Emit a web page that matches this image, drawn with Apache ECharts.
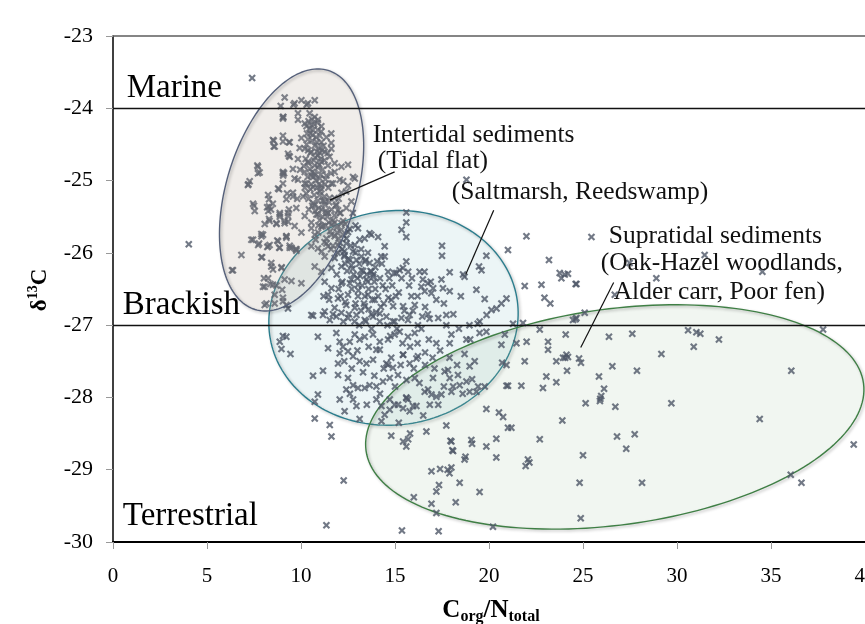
<!DOCTYPE html>
<html><head><meta charset="utf-8">
<script src="https://cdn.jsdelivr.net/npm/echarts/dist/echarts.min.js"></script>
<style>html,body{margin:0;padding:0;background:#fff}#c{width:865px;height:624px}</style>
</head><body><div id="c"></div>
<script>
// ---------- data (C/N, d13C) ----------
const intertidal = [
[9.13,-23.85],[8.92,-23.97],[9.06,-24.12],[8.55,-24.45],[8.55,-24.53],[9.04,-24.46],[9.36,-24.47],[9.36,-24.66],[7.68,-24.79],[7.8,-24.89],
[7.27,-25.01],[7.2,-25.05],[9.1,-24.9],[9.05,-24.93],[8.83,-25.12],[9.26,-25.18],[9.57,-25.22],[9.8,-25.25],[7.45,-25.32],[7.5,-25.35],
[8.3,-25.26],[8.2,-25.37],[8.4,-25.4],[8.87,-25.5],[9.36,-25.4],[9.31,-25.57],[8.07,-25.6],[8.33,-25.56],[8.7,-25.6],[7.98,-25.75],
[7.9,-25.77],[7.45,-25.82],[7.77,-25.87],[8.21,-25.92],[8.33,-25.89],[8.74,-25.83],[9.22,-25.79],[8.84,-25.93],[9.4,-25.93],[9.72,-25.95],
[6.83,-26.03],[6.33,-26.24],[7.93,-26.06],[8.42,-26.19],[8.97,-26.2],[8.03,-26.35],[8.37,-26.43],[8.69,-26.45],[7.98,-26.47],[9.0,-26.51],
[8.16,-26.7],[8.6,-26.7],[9.04,-26.67],[9.31,-26.77],
[7.54,-25.42],[8.3,-25.36],[8.26,-25.42],[8.5,-25.32],[8.87,-25.47],[9.31,-25.45],[8.3,-25.53],[8.69,-25.59],[9.13,-25.59],[7.89,-25.74],
[7.36,-25.82],[7.72,-25.89],[8.25,-25.91],[8.78,-25.84],[8.87,-25.93],[9.22,-25.77],[9.49,-25.93],[9.76,-25.95],[7.89,-26.06],[8.42,-26.14],
[8.51,-26.23],[8.96,-26.21],[6.38,-26.24],[8.25,-26.35],[8.07,-26.47],[8.51,-26.44],[9.13,-26.37],[9.49,-26.39],[10.02,-26.42],[8.6,-26.58],
[9.04,-26.62],[8.07,-26.72],[9.22,-26.72],
[10.02,-23.89],[10.73,-23.89],[9.6,-23.95],[10.3,-23.95],[10.46,-24.07],[10.73,-24.12],[9.84,-24.16],[10.9,-24.16],[9.04,-24.12],[10.29,-24.25],
[10.64,-24.3],[11.08,-24.32],[11.61,-24.35],[9.04,-24.38],[9.4,-24.47],[10.37,-24.43],[10.73,-24.52],[11.08,-24.47],[10.2,-24.56],[10.55,-24.6],
[10.9,-24.65],[11.26,-24.6],[11.61,-24.56],[9.31,-24.63],[9.84,-24.7],[10.37,-24.74],[10.73,-24.79],[11.08,-24.74],[11.43,-24.79],[12.5,-24.78],
[11.79,-24.88],[9.57,-24.84],[9.04,-24.88],[10.2,-24.88],[10.55,-24.93],[11.0,-24.97],[11.35,-24.93],[12.77,-24.95],[9.84,-24.99],[12.06,-24.99],
[9.04,-25.04],[10.29,-25.04],[10.64,-25.09],[11.08,-25.07],[11.61,-25.04],[9.57,-25.17],[10.11,-25.22],[11.0,-25.2],[11.52,-25.24],[12.15,-25.17],
[12.5,-25.07],[9.22,-25.26],[10.64,-25.31],[11.26,-25.33],[11.88,-25.33],[12.68,-25.29],[8.87,-25.45],[9.75,-25.38],[9.31,-25.49],[10.2,-25.49],
[10.82,-25.47],[11.35,-25.45],[12.06,-25.45],[9.13,-25.56],[9.66,-25.63],[10.55,-25.58],[11.17,-25.63],[11.79,-25.58],[12.24,-25.56],[12.59,-25.67],
[9.22,-25.77],[10.02,-25.72],[10.91,-25.72],[11.61,-25.75],[12.24,-25.75],[9.4,-25.9],[9.75,-25.97],[10.55,-25.91],[11.35,-25.87],[12.06,-25.86],
[9.66,-23.93],[10.37,-23.93],[9.04,-24.14],[9.84,-24.07],[10.2,-24.21],[10.55,-24.23],[11.08,-24.25],[8.51,-24.44],[8.6,-24.53],[10.02,-24.41],
[9.93,-24.55],[11.61,-24.48],[9.4,-24.67],[11.0,-24.62],[11.52,-24.67],[11.79,-24.76],[12.15,-24.81],[7.71,-24.81],[7.71,-24.9],[9.04,-24.9],
[7.18,-25.06],[8.78,-25.11],[9.66,-24.97],[10.2,-25.04],[10.73,-24.93],[11.08,-25.12],[11.7,-25.04],[12.24,-25.01],[12.86,-24.97],[8.25,-25.2],
[10.4,-24.18],[10.7,-24.22],[10.9,-24.3],[10.5,-24.35],[10.8,-24.4],[11.0,-24.38],[10.6,-24.45],[10.3,-24.5],[10.95,-24.55],[11.2,-24.52],
[10.5,-24.62],[10.75,-24.68],[11.05,-24.7],[10.4,-24.76],[10.9,-24.82],[11.15,-24.85],[10.6,-24.88],[10.35,-24.95],[10.8,-25.0],[11.3,-24.98],
[10.55,-25.05],[11.0,-25.15],[10.7,-25.2],[11.25,-25.22],[10.4,-25.25],[10.9,-25.28],[11.5,-25.3],[11.1,-25.4],[10.75,-25.42],[11.4,-25.5],
[11.7,-25.55],[11.0,-25.55],[11.3,-25.62],[11.9,-25.65],[11.55,-25.7],[12.0,-25.8],[11.25,-25.85],[11.7,-25.9],[12.2,-25.95],[10.85,-24.6],
[10.65,-24.95],[11.45,-25.1],[10.95,-25.05],[10.25,-24.7],[11.6,-24.9],[12.1,-25.45],[12.35,-25.6],[11.85,-25.35],[10.2,-25.1],[9.95,-24.85],
[10.73,-25.34],[11.26,-25.29],[11.79,-25.24],[10.9,-25.47],[11.44,-25.45],[11.97,-25.41],[12.41,-25.38],[10.55,-25.66],[11.08,-25.64],[11.62,-25.61],
[12.15,-25.59],[10.73,-25.75],[11.35,-25.8],[11.79,-25.77],[12.5,-25.71],[13.03,-25.66],[10.9,-25.94],[11.44,-25.91],[11.97,-25.89],[12.41,-25.87],
[12.86,-25.89],[13.39,-25.8],[13.74,-25.75],
[10.45,-24.28],[10.62,-24.37],[10.85,-24.47],[11.12,-24.58],[10.38,-24.58],[10.68,-24.72],[10.98,-24.78],[11.25,-24.72],[10.48,-24.84],[10.72,-24.9],
[11.05,-24.92],[11.28,-25.05],[10.5,-25.12],[10.85,-25.1],[11.15,-25.28],[10.6,-25.35],[10.95,-25.38],[11.32,-25.42],[11.62,-25.4],[11.15,-25.5],
[11.48,-25.58],[11.78,-25.48],[11.92,-25.72],[12.15,-25.68],[12.42,-25.8],[12.65,-25.9],[12.3,-25.98],[11.95,-26.0],[12.52,-26.08],[12.95,-26.1],
[10.58,-24.15],[10.88,-24.2],[10.32,-24.35],[11.35,-24.4],[11.42,-24.62],[10.15,-24.8],[10.28,-25.18],[10.42,-25.4],[10.92,-25.62],[11.6,-25.95],
[11.1,-25.98],[10.78,-25.82],[12.0,-25.25],[12.4,-25.15],[12.75,-25.45],[12.9,-25.62],[13.2,-25.95],[13.4,-26.12]
];
const saltmarsh = [
[11.26,-26.05],[11.79,-26.07],[12.32,-26.03],[12.77,-25.98],[13.21,-26.05],[13.56,-26.0],[11.62,-26.21],[12.15,-26.19],[12.68,-26.17],[13.21,-26.24],
[13.65,-26.14],[10.73,-26.19],[11.08,-26.26],[11.26,-26.4],[11.62,-26.49],[12.15,-26.42],[12.68,-26.37],[13.03,-26.44],[13.48,-26.37],[13.83,-26.33],
[11.44,-26.58],[11.97,-26.63],[12.5,-26.58],[13.03,-26.6],[13.56,-26.58],[10.55,-26.86],[11.26,-26.81],[11.79,-26.76],[12.41,-26.72],[12.86,-26.76],
[13.39,-26.74],
[10.64,-26.87],[11.17,-26.86],[11.53,-26.93],[11.88,-26.88],[12.15,-26.83],[12.5,-26.9],[12.95,-26.86],[13.39,-26.93],[13.83,-26.88],[14.19,-26.95],
[14.54,-26.88],[14.89,-26.95],[15.34,-26.9],[15.69,-26.93],[9.04,-27.15],[9.22,-27.16],[8.87,-27.23],[8.96,-27.33],[9.44,-27.4],[10.9,-27.16],
[11.44,-27.32],[11.88,-27.11],[12.06,-27.23],[12.23,-27.3],[12.59,-27.23],[12.86,-27.13],[13.12,-27.2],[13.39,-27.16],[13.83,-27.13],[14.19,-27.23],
[14.63,-27.2],[14.98,-27.13],[15.25,-27.09],[15.69,-27.16],[16.05,-27.11],[12.06,-27.39],[12.5,-27.36],[12.77,-27.43],[13.12,-27.5],[13.48,-27.53],
[13.83,-27.48],[14.19,-27.34],[14.63,-27.55],[14.89,-27.59],[15.43,-27.41],[15.78,-27.53],[16.14,-27.46],[11.97,-27.53],[10.64,-27.7],[11.17,-27.63],
[11.97,-27.69],[12.5,-27.73],[12.77,-27.83],[13.03,-27.87],[13.39,-27.87],[13.65,-27.83],[14.01,-27.85],[14.36,-27.78],[14.72,-27.73],[15.16,-27.69],
[15.61,-27.76],[16.05,-27.73],[12.41,-27.89],[10.9,-27.96],[10.73,-28.06],[12.06,-28.03],[12.77,-28.03],[12.32,-28.19],[12.95,-28.12],[13.12,-28.3],
[14.01,-28.03],[14.28,-28.12],[14.72,-28.03],[15.16,-28.1],[15.61,-28.01],[15.96,-28.12],[10.73,-28.29],[11.53,-28.38],[11.62,-28.54],
[13.65,-25.73],[14.1,-25.78],[14.45,-25.91],[13.12,-25.82],[15.6,-25.44],[15.6,-25.58],[15.35,-25.68],[15.6,-25.78],[17.5,-25.9],[17.5,-26.04],
[14.27,-26.05],[17.91,-26.27],[17.47,-26.37],[15.6,-26.12],[15.25,-26.24],[15.42,-26.21],[15.7,-26.26],[15.07,-26.28],[14.63,-26.26],[16.31,-26.26],
[16.57,-26.26],[16.48,-26.37],[16.75,-26.42],[17.03,-26.49],[16.4,-26.47],[16.58,-26.53],[16.93,-26.56],[17.2,-26.65],[15.87,-26.6],[17.55,-26.49],
[17.91,-26.53],[19.33,-26.51],[19.77,-26.64],[20.93,-26.63],[20.66,-26.7],[20.4,-26.77],[20.13,-26.79],[19.87,-26.86],[19.5,-26.95],[17.73,-26.86],
[16.84,-26.91],[16.75,-26.85],[15.78,-26.86],[15.95,-26.8],[14.8,-26.65],[14.9,-26.74],[15.43,-26.74],[13.74,-26.26],[13.85,-26.3],[13.92,-26.65],
[14.19,-26.84],[14.98,-26.95],[16.22,-27.0],[17.73,-27.0],[18.96,-27.0],[19.4,-26.98],[19.6,-26.24],[18.7,-26.33],[18.62,-26.3],[19.47,-26.19],
[12.3,-26.05],[12.6,-26.1],[12.9,-26.0],[13.1,-26.15],[13.3,-26.25],[12.8,-26.3],[13.5,-26.3],[13.7,-26.25],[12.45,-26.25],[13.0,-26.35],
[13.25,-26.45],[13.6,-26.5],[13.9,-26.4],[14.2,-26.35],[12.7,-26.5],[13.4,-26.6],[13.8,-26.65],[14.1,-26.6],[14.4,-26.7],[12.9,-26.7],
[13.2,-26.8],[13.6,-26.78],[14.0,-26.82],[14.5,-26.5],[14.7,-26.35],[12.2,-26.4],[11.9,-26.3],[12.55,-26.85],[13.95,-26.2],[14.3,-26.15],
[13.45,-26.1],[12.1,-26.6],[11.5,-26.65],[11.2,-26.6],[12.25,-26.95],[13.1,-27.0],[13.75,-27.05],[14.6,-27.0],[15.1,-27.05],[15.5,-26.8],
[15.2,-26.55],[14.85,-26.45],[15.9,-26.35],[16.2,-26.6],[16.6,-26.75],[16.9,-26.4],[17.3,-26.9],[17.6,-26.7],[18.1,-26.85],[18.5,-26.6],
[18.4,-27.05],[19.0,-27.2],[18.7,-27.4],[17.9,-27.45],[17.4,-27.35],[16.8,-27.2],[16.4,-27.05],[15.8,-27.3],[15.3,-27.55],[14.8,-27.45],
[14.4,-27.6],[13.9,-27.7],[13.3,-27.65],[12.7,-27.6],[12.3,-27.5],[13.0,-27.35],[13.6,-27.3],[15.0,-27.85],[15.6,-28.0],[16.3,-27.8],
[16.0,-27.6],[16.6,-27.55],[14.01,-27.34],[14.54,-27.53],[15.43,-27.41],[16.22,-27.43],[17.0,-27.45],[17.2,-27.25],[17.91,-27.25],[18.0,-27.13],
[18.8,-27.2],[19.5,-27.11],[19.86,-27.09],
[16.58,-27.92],[16.76,-27.89],[16.94,-27.96],[17.2,-27.99],[17.47,-27.96],[18.0,-27.92],[18.09,-27.85],[18.44,-27.83],[18.8,-27.78],[18.97,-27.92],
[19.33,-27.92],[17.91,-27.73],[18.35,-27.69],[17.64,-27.64],[17.82,-27.62],[18.97,-27.57],[19.24,-27.5],[17.02,-27.73],[16.14,-28.12],[15.78,-28.19],
[15.43,-28.15],[15.69,-28.03],[14.98,-28.1],[14.72,-28.17],[14.45,-28.24],[14.28,-28.33],[16.85,-28.1],[21.28,-26.98],[20.84,-27.13],[20.66,-27.27],
[21.81,-26.97],
[12.35,-26.15],[12.75,-26.22],[13.15,-26.32],[13.55,-26.4],[13.95,-26.5],[14.35,-26.45],[12.6,-26.42],[13.05,-26.52],[13.35,-26.7],[13.75,-26.85],
[14.25,-26.75],[14.65,-26.62],[15.05,-26.6],[15.35,-26.35],[15.75,-26.45],[16.05,-26.72],[16.45,-26.88],[14.95,-26.28],[14.45,-26.05],[14.05,-26.12],
[12.0,-26.5],[12.35,-26.68],[11.7,-26.85],[12.85,-26.95],[13.45,-26.95],[14.75,-27.15],[15.4,-27.25],[16.2,-27.25],[16.6,-27.38],[17.1,-27.6],
[17.6,-27.85],[18.3,-27.55],[18.6,-27.95],[19.1,-27.75],[17.3,-28.1],[16.5,-28.25],[15.2,-28.35],[14.2,-27.95],[13.5,-28.1],[12.6,-27.95]
];
const supratidal = [
[14.8,-28.53],[15.43,-28.61],[15.7,-28.58],[15.8,-28.5],[15.6,-28.68],[16.67,-28.47],[17.73,-28.39],[17.95,-28.6],[18.05,-28.73],[16.94,-29.02],
[17.4,-28.99],[17.8,-29.0],[17.9,-29.05],[18.0,-28.97],[18.44,-29.18],[17.34,-29.21],[17.2,-29.3],[16.0,-29.38],[16.94,-29.47],[17.2,-29.6],
[18.23,-29.45],[19.5,-29.31],[19.06,-28.59],[19.1,-28.64],[19.86,-28.68],[20.39,-28.83],[20.39,-28.57],[19.86,-28.16],[20.53,-28.21],[20.75,-28.27],
[21.01,-28.42],[21.19,-28.42],[22.07,-28.86],[22.15,-28.9],[21.95,-28.95],[22.7,-28.58],[18.7,-28.86],[18.75,-28.82],[20.21,-29.79],[18.0,-28.61],
[18.09,-28.74],
[19.42,-27.85],[19.77,-27.85],[21.01,-27.84],[21.72,-27.84],[22.87,-27.87],[23.05,-27.71],[23.58,-27.79],[21.9,-27.5],[20.7,-27.52],[21.46,-27.25],
[22.0,-27.23],[23.14,-27.23],[23.14,-27.34],[23.58,-27.5],[23.94,-27.45],[24.65,-26.9],[23.26,-26.7],[22.7,-27.06],[20.93,-27.55],[20.93,-27.84],
[25.09,-26.83],[24.47,-26.93],[24.6,-26.92],[24.08,-27.13],[26.38,-27.16],[27.62,-27.12],[30.59,-27.07],[31.03,-27.1],[31.24,-27.12],[30.89,-27.3],
[32.23,-27.2],[29.17,-27.4],[24.12,-27.41],[24.05,-27.45],[24.2,-27.44],[24.79,-27.46],[24.89,-27.52],[24.15,-27.63],[26.56,-27.57],[25.85,-27.71],
[27.87,-27.63],[26.12,-27.88],[25.92,-28.02],[25.9,-28.05],[25.97,-27.98],[25.14,-28.08],[26.72,-28.13],[29.7,-28.08],[23.9,-28.32],[26.81,-28.54],
[27.75,-28.51],[27.3,-28.71],[25.0,-28.8],[24.82,-29.18],[28.14,-29.18],[24.88,-29.67],[34.4,-28.3],
[25.45,-25.78],[31.47,-26.03],[28.9,-26.35],[34.54,-26.26],[27.48,-26.14],[26.69,-26.58],[24.2,-26.29],[24.61,-26.43],[23.19,-26.1],[21.99,-25.77],
[21.01,-25.96],[19.86,-26.04],[21.9,-26.46],[22.79,-26.44],[23.76,-26.28],[24.03,-26.3],[24.65,-26.43],[23.85,-26.35],[18.8,-24.99],[22.95,-26.62]
];
const outliers = [
[7.4,-23.58],[4.03,-25.88],[11.35,-29.77],[12.27,-29.15],[15.37,-29.84],[17.32,-29.85],[39.4,-28.65],[36.05,-29.07],[36.62,-29.18],[37.77,-27.06],
[36.08,-27.63]
];
const yTicks = {min:-30, max:-23, step:1};
const xTicks = {min:0, max:40, step:5};
const borderLine = -23;
const zoneLines = [-24, -27];
const zoneLabels = ['Marine', 'Brackish', 'Terrestrial'];
const zoneLabelAt = [[0.73,-23.72],[0.52,-26.72],[0.52,-29.65]];
const noteTexts = ['Intertidal sediments','(Tidal flat)','(Saltmarsh, Reedswamp)','Supratidal sediments','(Oak-Hazel woodlands,','Alder carr, Poor fen)'];
const noteAt = [[13.81,-24.37],[14.08,-24.74],[18.02,-25.16],[26.37,-25.77],[25.94,-26.15],[26.63,-26.54]];
const leaderFromTo = [[[14.98,-24.88],[11.53,-25.27]],[[20.25,-25.41],[18.76,-26.30]],[[26.63,-26.41],[24.88,-27.31]]];
// ellipse envelopes: centre in data units, semi-axes in px, tilt in degrees
const envelopeCentres = [[9.5,-25.13],[14.92,-26.9],[26.69,-28.27]];
const envelopeStyle = [
  {a:125,b:65,angle:73,fill:'rgba(180,165,150,0.2)',stroke:'#55607a',z:4},
  {a:125,b:107,angle:8,fill:'rgba(150,200,205,0.18)',stroke:'#2b7d8d',z:1},
  {a:251,b:108,angle:7.7,fill:'rgba(160,195,160,0.15)',stroke:'#3f7f45',z:1}
];

// ---------- chart ----------
const SERIF = "'Liberation Serif','Times New Roman',serif";
const crossSym = 'path://M0,2L2,0L5,3L8,0L10,2L7,5L10,8L8,10L5,7L2,10L0,8L3,5Z';
const ptColor = '#4f5768';
const chart = echarts.init(document.getElementById('c'));

function scatterSeries(name, data, extra){
  return Object.assign({name, type:'scatter', data, symbol:crossSym, symbolSize:7.5,
    itemStyle:{color:ptColor}, z:2, silent:true, animation:false}, extra||{});
}
function envelopeSeries(i){
  const e = envelopeStyle[i];
  return {type:'custom', data:[envelopeCentres[i]], z:e.z, silent:true, animation:false, clip:false,
    renderItem(params, api){
      const c = api.coord([api.value(0), api.value(1)]);
      const th = e.angle*Math.PI/180, ux=Math.cos(th), uy=-Math.sin(th), vx=Math.sin(th), vy=Math.cos(th);
      const pts=[];
      for(let k=0;k<180;k++){const t=k/180*2*Math.PI, ca=e.a*Math.cos(t), sb=e.b*Math.sin(t);
        pts.push([c[0]+ca*ux+sb*vx, c[1]+ca*uy+sb*vy]);}
      return {type:'group', children:[
        {type:'polygon', shape:{points:pts}, style:{fill:e.fill, stroke:null}},
        {type:'polygon', shape:{points:pts}, style:{fill:null, stroke:e.stroke, lineWidth:1.4,
          shadowBlur:3, shadowColor:'rgba(0,0,0,0.3)', shadowOffsetX:1.5, shadowOffsetY:1.5}}
      ]};
    }};
}

const markLine = {silent:true, symbol:['none','none'], label:{show:false}, animation:false,
  lineStyle:{color:'#111', width:1.3, type:'solid'},
  data:[{yAxis:borderLine, lineStyle:{color:'#5c5c5c', width:1.6, type:'solid'}}].concat(zoneLines.map(v=>({yAxis:v})))};

chart.setOption({
  backgroundColor:'#fff',
  animation:false,
  grid:{left:113, top:36, right:0, bottom:82, containLabel:false, outerBoundsMode:'none'},
  xAxis:{type:'value', min:xTicks.min, max:xTicks.max, interval:xTicks.step,
    axisLine:{show:true, onZero:false, lineStyle:{color:'#000', width:2}},
    axisTick:{show:true, length:7, lineStyle:{color:'#999'}},
    splitLine:{show:false},
    axisLabel:{color:'#000', fontFamily:SERIF, fontSize:21, margin:24, showMaxLabel:true, showMinLabel:true, hideOverlap:false}},
  yAxis:{type:'value', min:yTicks.min, max:yTicks.max, interval:yTicks.step,
    axisLine:{show:true, onZero:false, lineStyle:{color:'#000', width:1.5}},
    axisTick:{show:true, length:7, lineStyle:{color:'#999'}},
    splitLine:{show:false},
    axisLabel:{color:'#000', fontFamily:SERIF, fontSize:22, margin:20}},
  series:[
    scatterSeries('Intertidal', intertidal, {markLine}),
    scatterSeries('Saltmarsh', saltmarsh),
    scatterSeries('Supratidal', supratidal),
    scatterSeries('Other', outliers),
    envelopeSeries(0), envelopeSeries(1), envelopeSeries(2)
  ]
});

// annotations anchored in data space
const P = p => chart.convertToPixel({gridIndex:0}, p);
const g = [];
zoneLabels.forEach((t,i)=>{const p=P(zoneLabelAt[i]);
  g.push({type:'text', x:p[0], y:p[1], z:10, silent:true,
    style:{text:t, fill:'#000', font:"33px "+SERIF, textVerticalAlign:'middle', textAlign:'left'}});});
noteTexts.forEach((t,i)=>{const p=P(noteAt[i]);
  g.push({type:'text', x:p[0], y:p[1], z:10, silent:true,
    style:{text:t, fill:'#111', font:"25.5px "+SERIF, textVerticalAlign:'middle', textAlign:'left'}});});
leaderFromTo.forEach(l=>{const a=P(l[0]), b=P(l[1]);
  g.push({type:'line', z:10, silent:true, shape:{x1:a[0],y1:a[1],x2:b[0],y2:b[1]}, style:{stroke:'#111', lineWidth:1.2}});});
// axis titles
g.push({type:'text', x:40, y:290, rotation:Math.PI/2, z:10, silent:true,
  style:{text:'{b|δ}{s|13}{b|C}', textAlign:'center', textVerticalAlign:'middle',
    rich:{b:{fontFamily:SERIF, fontWeight:'bold', fontSize:23, lineHeight:28, fill:'#000'},
          s:{fontFamily:SERIF, fontWeight:'bold', fontSize:14, lineHeight:14, verticalAlign:'top', fill:'#000'}}}});
g.push({type:'text', x:491, y:611, z:10, silent:true,
  style:{text:'{b|C}{s|org}{b|/N}{s|total}', textAlign:'center', textVerticalAlign:'middle',
    rich:{b:{fontFamily:SERIF, fontWeight:'bold', fontSize:25, lineHeight:28, fill:'#000'},
          s:{fontFamily:SERIF, fontWeight:'bold', fontSize:16, lineHeight:12, verticalAlign:'bottom', fill:'#000'}}}});
chart.setOption({graphic:{elements:g}});
</script></body></html>
